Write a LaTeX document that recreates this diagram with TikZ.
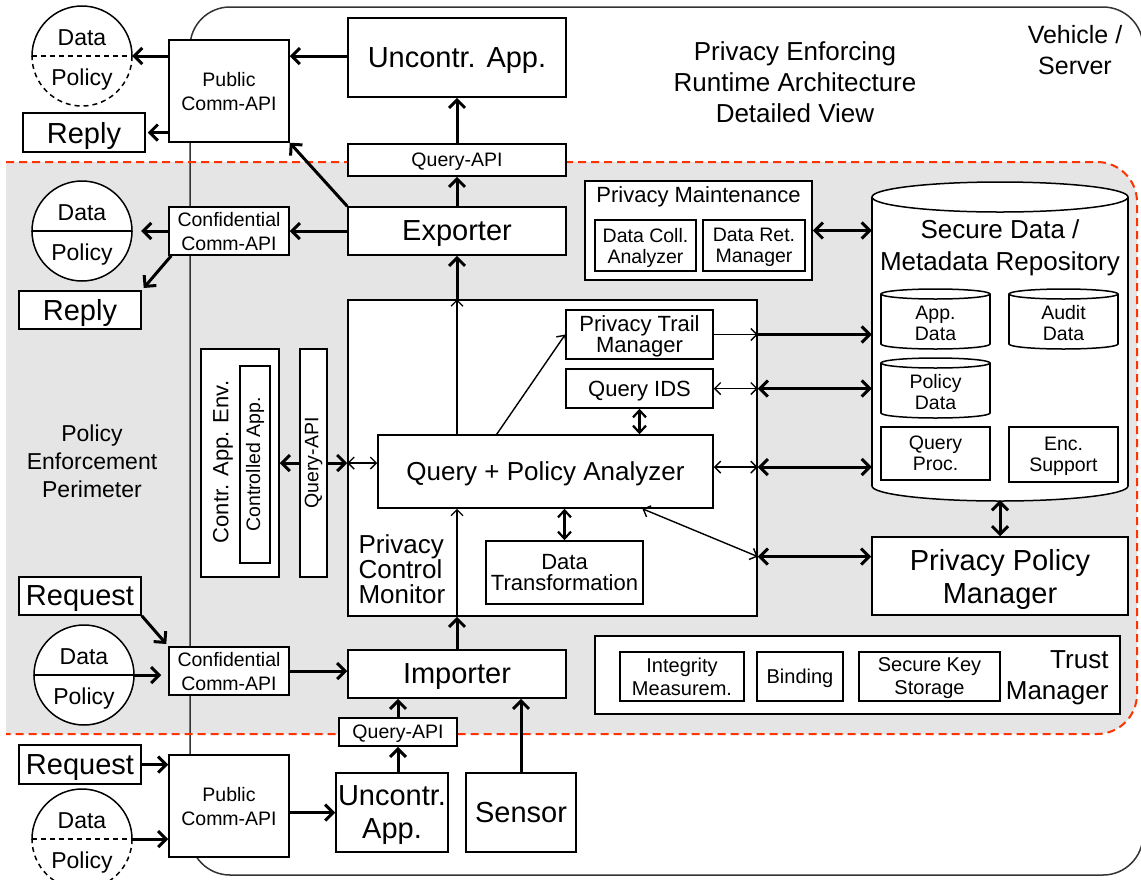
\documentclass[tikz,border=0pt]{standalone}
\usepackage{fontspec}
\setmainfont{Liberation Sans}
\usetikzlibrary{arrows.meta,calc}
\definecolor{pgray}{HTML}{E5E5E5}
\definecolor{pred}{HTML}{FF3300}
\definecolor{outerc}{HTML}{333333}
\newcommand\fsA{\fontsize{19.5}{22}\selectfont}
\newcommand\fsAc{\fontsize{19.5}{24}\selectfont}
\newcommand\fsAs{\fontsize{19.5}{21}\selectfont}
\newcommand\fsB{\fontsize{22}{26}\selectfont}
\newcommand\fsBt{\fontsize{22}{21}\selectfont}
\newcommand\fsC{\fontsize{26}{25}\selectfont}
\newcommand\fsD{\fontsize{29}{33}\selectfont}
\newcommand\fsE{\fontsize{20}{23}\selectfont}
\newcommand\fsT{\fontsize{26}{31}\selectfont}
\newcommand\fsTM{\fontsize{26}{31}\selectfont}
\newcommand\fsV{\fontsize{25}{31}\selectfont}
\newcommand\fsP{\fontsize{23}{28}\selectfont}
\newcommand\fsR{\fontsize{26}{32}\selectfont}
\newcommand\fsCi{\fontsize{23}{26}\selectfont}
\newcommand\bnode[7][]{\node[bx,#1,minimum width={(#5-#3)*1pt},minimum height={(#6-#4)*1pt}] (#2) at ({(#3+#5)/2},{(#4+#6)/2}) {#7};}
\newcommand\dpcircle[4]{%
  \node[circle, inner sep=0pt, minimum size=100pt, fill=white] (#1) at (#2,#3) {};
  \begin{scope}\clip (#2-60,#3-60) rectangle (#2+60,#3); \draw[lw] (#2,#3) circle (50); \end{scope}
  \begin{scope}\clip (#2-60,#3) rectangle (#2+60,#3+60); \draw[lw,#4] (#2,#3) circle (50); \end{scope}
  \draw[lw,#4] (#1.west) -- (#1.east);
  \node[font=\fsCi] (#1d) at (#2,#3-18) {Data};
  \node[font=\fsCi] (#1p) at (#2,#3+24) {Policy};
}
\newcommand\cylshape[5]{%
  \fill[white] (#1-#4,#2) rectangle (#1+#4,#3);
  \fill[white] (#1,#3) ellipse[x radius=#4, y radius=#5];
  \draw[lw] (#1-#4,#2) -- (#1-#4,#3) (#1+#4,#2) -- (#1+#4,#3);
  \begin{scope}\clip (#1-#4-5,#3) rectangle (#1+#4+5,#3+#5+5); \draw[lw] (#1,#3) ellipse[x radius=#4, y radius=#5]; \end{scope}
  \draw[lw, fill=white] (#1,#2) ellipse[x radius=#4, y radius=#5];
}
\begin{document}
\begin{tikzpicture}[x=1pt,y=-1pt,
  every node/.append style={align=center},
  bx/.style={draw, fill=white, line width=1.5pt, inner sep=0pt, text depth=0pt, align=center},
  lw/.style={line width=1.5pt},
  dsh/.style={dash pattern=on 5pt off 4pt},
  ta/.style={line width=3pt, -{Straight Barb[length=8pt,width=16pt]}},
  tad/.style={line width=3pt, {Straight Barb[length=8pt,width=16pt]}-{Straight Barb[length=8pt,width=16pt]}},
  tn/.style={line width=1.4pt, -{Straight Barb[length=6pt,width=12pt]}},
  tnd/.style={line width=1.4pt, {Straight Barb[length=6pt,width=12pt]}-{Straight Barb[length=6pt,width=12pt]}},
  tm/.style={line width=2.2pt, {Straight Barb[length=7pt,width=13pt]}-{Straight Barb[length=7pt,width=13pt]}}]
\useasboundingbox (0,0) rectangle (1141,879);
\clip (0,0) rectangle (1141,879);
% perimeter fill
\begin{scope}
  \clip (6,0) rectangle (1141,879);
  \fill[pgray, rounded corners=40pt] (-40,162) rectangle (1137,734);
\end{scope}
% vehicle / server box
\draw[line width=1.5pt, draw=outerc, rounded corners=40pt] (190,7) rectangle (1143,875);
% red dashed perimeter
\draw[pred, line width=2pt, dash pattern=on 8pt off 5pt, rounded corners=40pt] (6,162) -- (1137,162) -- (1137,734) -- (6,734);

% labels
\node[font=\fsT] (title) at (795,82) {Privacy Enforcing\\Runtime Architecture\\Detailed View};
\node[font=\fsV] (veh) at (1075,50) {Vehicle /\\Server};
\node[font=\fsP] (pep) at (92,461) {Policy\\Enforcement\\Perimeter};

% circles
\dpcircle{cA}{82}{56}{dsh}
\dpcircle{cB}{82}{231}{solid}
\dpcircle{cC}{84}{675}{solid}
\dpcircle{cD}{82}{839}{dsh}

% upper part
\bnode[font=\fsAc]{pubA}{169}{40}{289}{142}{Public\\Comm-API}
\bnode[font=\fsD]{replyA}{23}{113}{145}{152}{Reply}
\bnode[font=\fsD]{uncA}{348}{18}{566}{97}{Uncontr. App.}
\bnode[font=\fsA]{qapiA}{348}{144}{566}{176}{Query-API}
\bnode[font=\fsD]{exp}{348}{207}{566}{255}{Exporter}
\bnode[font=\fsAc]{confA}{169}{207}{289}{255}{Confidential\\Comm-API}
\bnode[font=\fsD]{replyB}{19}{291}{141}{329}{Reply}

% privacy maintenance
\bnode{pm}{585}{181}{812}{280}{}
\node[font=\fsB] (pmt) at (698.5,197) {Privacy Maintenance};
\bnode[font=\fsAs]{dca}{595}{220}{696}{271}{Data Coll.\\Analyzer}
\bnode[font=\fsAs]{drm}{703}{220}{805}{271}{Data Ret.\\Manager}

% repository
\cylshape{1000}{197}{486}{128}{15}
\node[inner sep=0pt, minimum width=256pt, minimum height=318pt] (repo) at (1000,341) {};
\node[font=\fsR] (repot) at (1000,248) {Secure Data /\\Metadata Repository};
\cylshape{935.5}{294}{344}{54.5}{5}
\node[font=\fsAs] (appd) at (935.5,323) {App.\\Data};
\cylshape{1063.5}{294}{344}{54.5}{5}
\node[font=\fsAs] (auditd) at (1063.5,323) {Audit\\Data};
\cylshape{935.5}{363}{413}{54.5}{5}
\node[font=\fsAs] (pold) at (935.5,392) {Policy\\Data};
\bnode[font=\fsAs]{qproc}{881}{427}{990}{480}{Query\\Proc.}
\bnode[font=\fsAs]{enc}{1009}{427}{1118}{482}{Enc.\\Support}
\bnode[font=\fsD]{ppm}{872}{537}{1128}{615}{Privacy Policy\\Manager}

% privacy control monitor
\bnode{pcm}{348}{300}{757}{616}{}
\node[font=\fsC, align=left, anchor=west] (pcmt) at (355,569) {Privacy\\Control\\Monitor};
\bnode[font=\fsC]{qpa}{378}{435}{713}{508}{Query + Policy Analyzer}
\bnode[font=\fsBt]{ptm}{566}{310}{713}{359}{Privacy Trail\\Manager}
\bnode[font=\fsB]{qids}{566}{369}{713}{408}{Query IDS}
\bnode[font=\fsBt]{dt}{486}{541}{643}{604}{Data\\Transformation}

% controlled app env
\bnode{cae}{201}{349}{279}{577}{}
\node[font=\fsB, rotate=90] (caet) at (223,462) {Contr. App. Env.};
\bnode{ctrl}{240}{366}{270}{563}{}
\node[font=\fsA, rotate=90] (ctrlt) at (255,464.5) {Controlled App.};
\bnode{qapiV}{300}{349}{327}{577}{}
\node[font=\fsA, rotate=90] (qapiVt) at (313.5,463) {Query-API};

% lower part
\bnode[font=\fsD]{reqA}{19}{577}{141}{615}{Request}
\bnode[font=\fsAc]{confB}{169}{647}{289}{695}{Confidential\\Comm-API}
\bnode[font=\fsD]{imp}{348}{650}{566}{698}{Importer}
\bnode[font=\fsA]{qapiB}{339}{718}{457}{746}{Query-API}
\bnode[font=\fsD]{uncB}{336}{773}{448}{852}{Uncontr.\\App.}
\bnode[font=\fsD]{sensor}{466}{773}{576}{852}{Sensor}
\bnode[font=\fsD]{reqB}{19}{745}{141}{784}{Request}
\bnode[font=\fsAc]{pubB}{169}{755}{289}{857}{Public\\Comm-API}

% trust manager
\bnode{tm}{595}{636}{1120}{714}{}
\node[font=\fsTM, align=right, anchor=east] (tmt) at (1112,678) {Trust\\Manager};
\bnode[font=\fsE]{im}{620}{652}{744}{701}{Integrity\\Measurem.}
\bnode[font=\fsE]{bind}{757}{652}{843}{701}{Binding}
\bnode[font=\fsE]{skey}{859}{652}{1000}{701}{Secure Key\\Storage}

% helper coordinates
\coordinate (qpaTop) at ($(qpa.north west)!0.355!(qpa.north east)$);
\coordinate (qpaBR) at ($(qpa.south west)!0.788!(qpa.south east)$);
\coordinate (ppmIn) at ($(ppm.north west)!0.256!(ppm.south west)$);
\coordinate (qpaOut) at ($(qpa.north east)!0.44!(qpa.south east)$);

% connectors
\draw[ta] (pubA.west|-cA.east) -- (cA.east);
\draw[ta, shorten >=2pt] (pubA.west|-replyA.east) -- (replyA.east);
\draw[ta] (uncA.west|-cA.east) -- (pubA.east|-cA.east);
\draw[ta] (qapiA.north) -- (uncA.south);
\draw[ta] (exp.north) -- (qapiA.south);
\draw[ta] (exp.north west) -- (pubA.south east);
\draw[ta] (exp.west) -- (confA.east);
\draw[ta, shorten >=9pt] (confA.west) -- (cB.east);
\draw[ta, shorten >=3pt] ([xshift=3pt]confA.south west) -- (replyB.north east);
\draw[ta] (pcm.north-|exp.south) -- (exp.south);
\draw[tn] (qpa.north-|exp.south) -- (pcm.north-|exp.south);
\draw[tn] (qpaTop) -- (ptm.west);
\draw[tm] (qids.south) -- (qpa.north-|qids.south);
\draw[tm] (qpa.south-|dt.north) -- (dt.north);
\draw[tnd] (pcm.west|-qapiV.east) -- (qpa.west|-qapiV.east);
\draw[ta] (qapiV.west) -- (cae.east|-qapiV.west);
\draw[ta] (qapiV.east) -- (pcm.west|-qapiV.east);
\draw[tn] (pcm.south-|exp.south) -- (qpa.south-|exp.south);
\draw[ta] (imp.north) -- (pcm.south-|imp.north);
\draw[tnd] (qpaBR) -- (pcm.east|-ppmIn);
\draw[tad] (pcm.east|-ppmIn) -- (ppmIn);
\draw[tn] (ptm.east) -- (pcm.east|-ptm.east);
\draw[ta] (pcm.east|-ptm.east) -- (repo.west|-ptm.east);
\draw[tnd] (qids.east) -- (pcm.east|-qids.east);
\draw[tad] (pcm.east|-qids.east) -- (repo.west|-qids.east);
\draw[tnd] (qpaOut) -- (pcm.east|-qpaOut);
\draw[tad] (pcm.east|-qpaOut) -- (repo.west|-qpaOut);
\draw[tad] (pm.east) -- (repo.west|-pm.east);
\draw[tad] (repo.south) -- (ppm.north);
\draw[ta, shorten >=3pt] (reqA.south east) -- (confB.north west);
\draw[ta, shorten >=7pt] (cC.east) -- (confB.west|-cC.east);
\draw[ta] (confB.east) -- (imp.west|-confB.east);
\draw[ta] (qapiB.north) -- (imp.south-|qapiB.north);
\draw[ta] (uncB.north-|qapiB.south) -- (qapiB.south);
\draw[ta] (sensor.north) -- (imp.south-|sensor.north);
\draw[ta] (reqB.east) -- (pubB.west|-reqB.east);
\draw[ta] (cD.east) -- (pubB.west|-cD.east);
\draw[ta] (pubB.east|-uncB.west) -- (uncB.west);
\end{tikzpicture}
\end{document}
